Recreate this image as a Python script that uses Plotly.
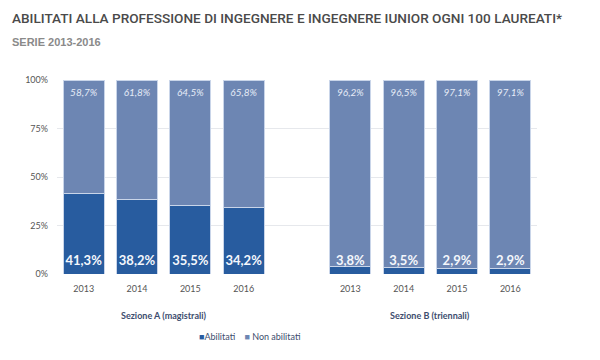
import plotly.graph_objects as go

years = ["2013", "2014", "2015", "2016"]
groups = ["Sezione A (magistrali)", "Sezione B (triennali)"]
abilitati_a = [41.3, 38.2, 35.5, 34.2]
non_abilitati_a = [58.7, 61.8, 64.5, 65.8]
abilitati_b = [3.8, 3.5, 2.9, 2.9]
non_abilitati_b = [96.2, 96.5, 97.1, 97.1]
y_ticks = [0, 25, 50, 75, 100]
y_tick_labels = ["0%", "25%", "50%", "75%", "100%"]
series_names = ["Abilitati", "Non abilitati"]

x_pos = [0, 1, 2, 3, 5, 6, 7, 8]
abil = abilitati_a + abilitati_b
nonabil = non_abilitati_a + non_abilitati_b
fmt = lambda v: f"{v:.1f}%".replace(".", ",")

C_AB = "#285c9f"
C_NON = "#6d86b3"
LINE = dict(color="#c9d5e9", width=1)

L, R, T, B = 57, 63, 80, 86
PW, PH = 600 - L - R, 360 - T - B


def px_to_paper(px_x, px_y):
    return (px_x - L) / PW, (360 - B - px_y) / PH


fig = go.Figure()
fig.add_trace(go.Bar(x=x_pos, y=abil, name=series_names[0], marker=dict(color=C_AB, line=LINE),
                     width=0.77, hoverinfo="skip"))
fig.add_trace(go.Bar(x=x_pos, y=nonabil, name=series_names[1], marker=dict(color=C_NON, line=LINE),
                     width=0.77, hoverinfo="skip"))
# top labels (Non abilitati)
fig.add_trace(go.Scatter(x=x_pos, y=[93.2] * len(x_pos), mode="text", text=[fmt(v) for v in nonabil],
                         textfont=dict(family="Lato, sans-serif", size=10, color="#e6ecf7", style="italic"),
                         showlegend=False, hoverinfo="skip"))
# bottom labels (Abilitati)
fig.add_trace(go.Scatter(x=x_pos, y=[6.3] * len(x_pos), mode="text", text=[fmt(v) for v in abil],
                         textfont=dict(family="Lato, sans-serif", size=13, color="#f4f7fc", weight="bold"),
                         showlegend=False, hoverinfo="skip"))

tx, ty = px_to_paper(10, 18)
sx, sy = px_to_paper(10, 42)
_, gy = px_to_paper(0, 315)
lx, ly = px_to_paper(197, 336)

fig.update_layout(
    barmode="stack",
    width=600, height=360,
    margin=dict(l=L, r=R, t=T, b=B, autoexpand=False),
    paper_bgcolor="white", plot_bgcolor="white",
    showlegend=False,
    hovermode=False,
    xaxis=dict(range=[-0.5, 8.5], tickvals=x_pos, ticktext=years + years, showgrid=False,
               zeroline=False, showline=False, ticks="", ticklabelstandoff=8,
               tickfont=dict(family="Lato, sans-serif", size=9, color="#555")),
    yaxis=dict(range=[0, 100], tickvals=y_ticks, ticktext=y_tick_labels, showgrid=True,
               gridcolor="#e6e8ec", gridwidth=1, zeroline=False,
               tickfont=dict(family="Lato, sans-serif", size=9, color="#555"), ticks="",
               ticklabelstandoff=8),
    annotations=[
        dict(text="ABILITATI ALLA PROFESSIONE DI INGEGNERE E INGEGNERE IUNIOR OGNI 100 LAUREATI*",
             x=tx, y=ty, xref="paper", yref="paper", showarrow=False, xanchor="left", yanchor="middle",
             font=dict(family="Roboto, sans-serif", size=13.6, color="#4a4a4a", weight=500)),
        dict(text="<b>SERIE 2013-2016</b>", x=sx, y=sy, xref="paper", yref="paper", showarrow=False,
             xanchor="left", yanchor="middle",
             font=dict(family="Liberation Sans, sans-serif", size=11, color="#8a8a8a")),
        dict(text="<b>" + groups[0] + "</b>", x=1.5, xref="x", y=gy, yref="paper", showarrow=False,
             yanchor="middle", font=dict(family="Lato, sans-serif", size=9, color="#3d4d6e")),
        dict(text="<b>" + groups[1] + "</b>", x=6.5, xref="x", y=gy, yref="paper", showarrow=False,
             yanchor="middle", font=dict(family="Lato, sans-serif", size=9, color="#3d4d6e")),
        dict(text=f"<span style='color:{C_AB}'>■</span>{series_names[0]}    "
                  f"<span style='color:{C_NON}'>■</span> {series_names[1]}",
             x=lx, y=ly, xref="paper", yref="paper", showarrow=False, xanchor="left", yanchor="middle",
             font=dict(family="Lato, sans-serif", size=9, color="#3d4d6e")),
    ],
)

fig.write_html("out.html", post_script="document.body.style.margin='0';",
               config={"displayModeBar": False, "staticPlot": True})
